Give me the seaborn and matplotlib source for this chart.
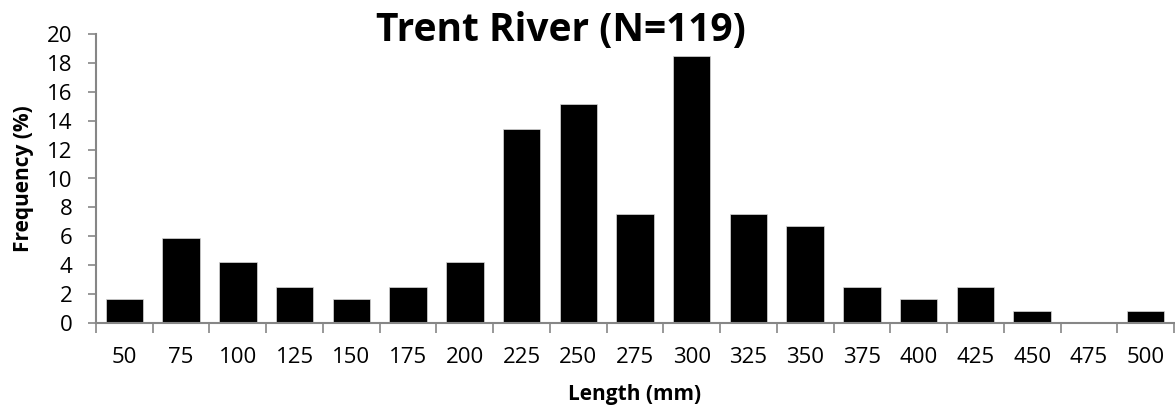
import matplotlib
matplotlib.use("Agg")
import matplotlib.pyplot as plt
import seaborn as sns
import pandas as pd
import numpy as np
from matplotlib.ticker import FixedLocator

lengths = ["50", "75", "100", "125", "150", "175", "200", "225", "250", "275",
           "300", "325", "350", "375", "400", "425", "450", "475", "500"]
frequency = [1.68, 5.88, 4.20, 2.52, 1.68, 2.52, 4.20, 13.45, 15.13, 7.56,
             18.49, 7.56, 6.72, 2.52, 1.68, 2.52, 0.84, 0.0, 0.84]
y_ticks = [0, 2, 4, 6, 8, 10, 12, 14, 16, 18, 20]

sns.set_theme(style="white")
plt.rcParams['font.family'] = ['Open Sans', 'DejaVu Sans']
plt.rcParams['text.color'] = 'black'
plt.rcParams['axes.labelcolor'] = 'black'
plt.rcParams['xtick.color'] = 'black'
plt.rcParams['ytick.color'] = 'black'

df = pd.DataFrame({"Length": lengths, "Frequency": frequency})

W, H = 1175, 411
fig = plt.figure(figsize=(W / 100, H / 100), dpi=100)
ax_left, ax_right, ax_top, ax_bottom = 96, 1174, 34, 323
ax = fig.add_axes([ax_left / W, 1 - ax_bottom / H, (ax_right - ax_left) / W, (ax_bottom - ax_top) / H])

sns.barplot(data=df, x="Length", y="Frequency", order=lengths, color="black",
            width=0.66, edgecolor="#d9d9d9", linewidth=0.5, saturation=1, ax=ax)

axis_color = "#868686"
ax.set_ylim(0, 20)
ax.set_xlim(-0.5, len(lengths) - 0.5)
ax.set_yticks(y_ticks)
ax.set_yticklabels([str(t) for t in y_ticks], fontsize=16)
ax.set_xticks(range(len(lengths)))
ax.set_xticklabels(lengths, fontsize=16)
ax.xaxis.set_minor_locator(FixedLocator(np.arange(-0.5, len(lengths), 1.0)))
ax.tick_params(axis="x", which="major", length=0, pad=17, labelcolor="black")
ax.tick_params(axis="x", which="minor", length=7, width=1.2, color=axis_color, bottom=True)
ax.tick_params(axis="y", which="major", length=6, width=1.2, color=axis_color, left=True,
               pad=11, labelcolor="black")

for side in ["top", "right"]:
    ax.spines[side].set_visible(False)
for side in ["left", "bottom"]:
    ax.spines[side].set_color(axis_color)
    ax.spines[side].set_linewidth(1.5)

ax_w = ax_right - ax_left
ax_h = ax_bottom - ax_top
ax.set_xlabel("Length (mm)", fontsize=15, fontweight="bold", va="center")
ax.xaxis.set_label_coords(0.5, (ax_bottom - 394) / ax_h)
ax.set_ylabel("Frequency (%)", fontsize=15, fontweight="bold", va="center")
ax.yaxis.set_label_coords((24 - ax_left) / ax_w, 0.5)

fig.text(561 / W, 1 - 30 / H, "Trent River (N=119)", fontsize=28, fontweight="bold",
         ha="center", va="center")

fig.savefig("out.png", dpi=100, facecolor="white")
